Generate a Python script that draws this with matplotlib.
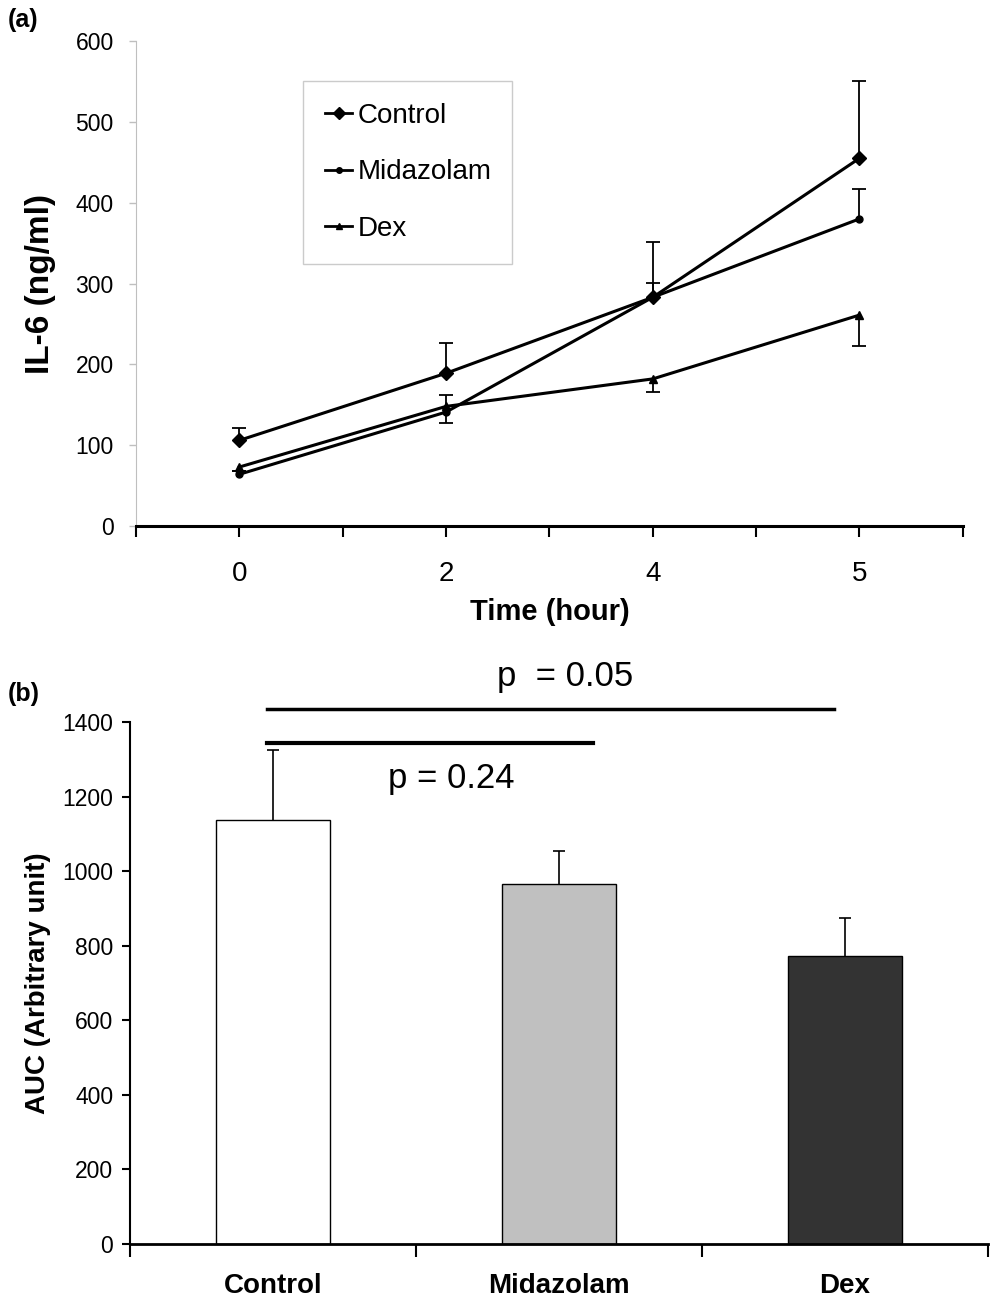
import numpy as np
import matplotlib
matplotlib.use("Agg")
import matplotlib.pyplot as plt
from matplotlib.lines import Line2D

plt.rcParams['font.family'] = ['Liberation Sans', 'DejaVu Sans']

# panel (a): IL-6 over time
time_labels = ["0", "2", "4", "5"]
control = [106, 189, 283, 455]
control_up = [15, 37, 69, 95]
midazolam = [64, 141, 283, 380]
midazolam_up = [4, 21, 18, 37]
dex = [73, 148, 182, 261]
dex_down = [5, 21, 16, 38]

# panel (b): AUC
groups = ["Control", "Midazolam", "Dex"]
auc = [1137, 965, 772]
auc_err = [188, 89, 102]
bar_colors = ["white", "#c0c0c0", "#333333"]

fig = plt.figure(figsize=(10.04, 13.16), dpi=100)

# ---------- (a) ----------
ax1 = fig.add_axes([0.1355, 0.6003, 0.8235, 0.3685])
x = np.arange(len(time_labels))


def one_sided(ax, y, lo, hi, marker, ms):
    eb = ax.errorbar(x, y, yerr=[lo, hi], color="black", lw=2.2, marker=marker,
                     ms=ms, ecolor="black", elinewidth=1.3, capsize=5,
                     capthick=1.3)
    lower_cap, upper_cap = eb[1]
    if max(lo) == 0:
        lower_cap.set_visible(False)
    if max(hi) == 0:
        upper_cap.set_visible(False)
    return eb


zeros = [0] * len(x)
one_sided(ax1, control, zeros, control_up, "D", 7)
one_sided(ax1, midazolam, zeros, midazolam_up, "o", 5)
one_sided(ax1, dex, dex_down, zeros, "^", 6)

ax1.set_xlim(-0.5, 3.5)
ax1.set_ylim(0, 600)
ax1.set_yticks(np.arange(0, 601, 100))
ax1.set_xticks(x)
ax1.set_xticklabels(time_labels, fontsize=20)
ax1.set_xticks(np.arange(-0.5, 3.6, 1.0), minor=True)
ax1.tick_params(axis="x", which="both", direction="out", length=8, width=1.5,
                color="black", pad=17)
ax1.tick_params(axis="y", direction="out", length=5, width=1, color="#bfbfbf",
                labelsize=16.5, pad=11)
for s in ["top", "right"]:
    ax1.spines[s].set_visible(False)
ax1.spines["left"].set_color("#bfbfbf")
ax1.spines["bottom"].set_linewidth(2.2)
ax1.set_xlabel("Time (hour)", fontsize=21, fontweight="bold", labelpad=8)
ax1.set_ylabel("IL-6 (ng/ml)", fontsize=24, fontweight="bold", labelpad=14)

handles = [Line2D([], [], color="black", lw=2, marker="D", ms=6),
           Line2D([], [], color="black", lw=2, marker="o", ms=4),
           Line2D([], [], color="black", lw=2, marker="^", ms=5)]
leg = ax1.legend(handles, ["Control", "Midazolam", "Dex"], loc="upper left",
                 bbox_to_anchor=(0.202, 0.565, 0.2527, 0.3525),
                 mode="expand", fontsize=20, frameon=True, fancybox=False,
                 handlelength=1.0, handletextpad=0.2, labelspacing=1.1,
                 borderpad=0.78, borderaxespad=0)
leg.get_frame().set_edgecolor("#bfbfbf")
leg.get_frame().set_linewidth(1)

fig.text(0.008, 0.985, "(a)", fontsize=18, fontweight="bold", va="center")

# ---------- (b) ----------
ax2 = fig.add_axes([0.1295, 0.0547, 0.8545, 0.3967])
xb = np.arange(len(groups))
ax2.bar(xb, auc, width=0.4, color=bar_colors, edgecolor="black", linewidth=1,
        zorder=2)
eb = ax2.errorbar(xb, auc, yerr=[[0] * 3, auc_err], fmt="none", ecolor="black",
                  elinewidth=1.2, capsize=4, capthick=1.2, zorder=3)
eb[1][0].set_visible(False)

ax2.set_xlim(-0.5, 2.5)
ax2.set_ylim(0, 1400)
ax2.set_yticks(np.arange(0, 1401, 200))
ax2.set_xticks(xb)
ax2.set_xticklabels(groups, fontsize=20, fontweight="bold")
ax2.set_xticks(np.arange(-0.5, 2.6, 1.0), minor=True)
ax2.tick_params(axis="x", which="major", length=0, pad=21)
ax2.tick_params(axis="x", which="minor", direction="out", length=9, width=1.5)
ax2.tick_params(axis="y", direction="out", length=6, width=1.5, labelsize=16.5,
                pad=6)
for s in ["top", "right"]:
    ax2.spines[s].set_visible(False)
ax2.spines["left"].set_linewidth(1.5)
ax2.spines["bottom"].set_linewidth(2)
ax2.set_ylabel("AUC (Arbitrary unit)", fontsize=20, fontweight="bold",
               labelpad=8)

# significance lines
ax2.plot([-0.02, 1.96], [1435, 1435], color="black", lw=2.5, clip_on=False)
ax2.plot([-0.02, 1.12], [1343, 1343], color="black", lw=3, clip_on=False)
ax2.text(1.02, 1523, "p  = 0.05", fontsize=25, ha="center", va="center",
         clip_on=False)
ax2.text(0.625, 1248, "p = 0.24", fontsize=25, ha="center", va="center")

fig.text(0.008, 0.473, "(b)", fontsize=18, fontweight="bold", va="center")

fig.savefig("out.png", dpi=100)
